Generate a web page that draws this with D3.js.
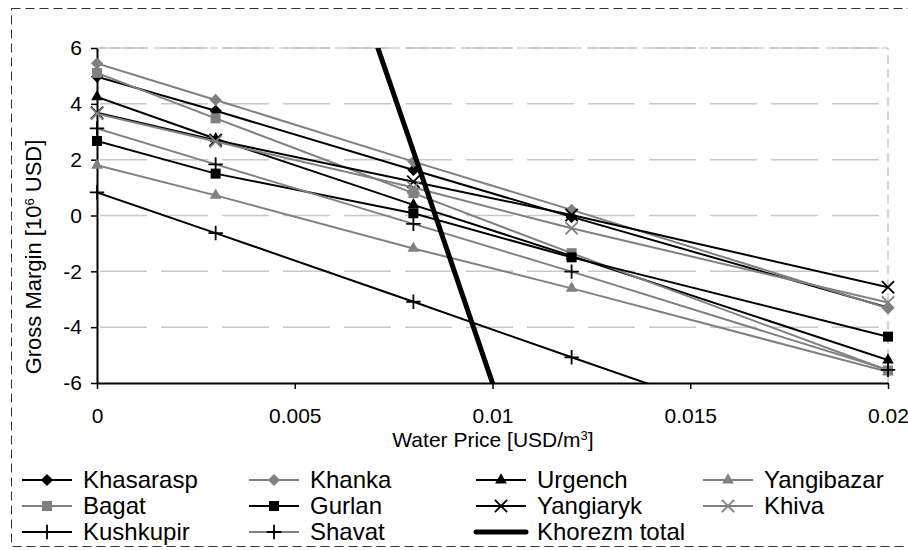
<!DOCTYPE html>
<html>
<head>
<meta charset="utf-8">
<script src="https://cdn.jsdelivr.net/npm/d3@7"></script>
<style>
  body { margin: 0; background: #fff; }
  svg { font-family: "Liberation Sans", Arial, sans-serif; }
</style>
</head>
<body>
<svg id="chart" width="908" height="550"></svg>
<script>
// water price steps (USD/m3)
var prices = [0, 0.003, 0.008, 0.012, 0.02]

// gross margin per district, 10^6 USD
var khasarasp  = [4.97, 3.75, 1.63, -0.05, -3.3]
var khanka     = [5.45, 4.14, 1.93, 0.2, -3.32]
var urgench    = [4.25, 2.75, 0.38, -1.45, -5.18]
var yangibazar = [1.8, 0.72, -1.18, -2.61, -5.6]
var bagat      = [5.11, 3.48, 0.8, -1.35, -5.55]
var gurlan     = [2.67, 1.5, 0.08, -1.5, -4.34]
var yangiaryk  = [3.68, 2.7, 1.21, 0.02, -2.57]
var khiva      = [3.65, 2.65, 1.0, -0.46, -3.12]
var kushkupir  = [0.83, -0.63, -3.09, -5.08, -9.0]
var shavat     = [3.12, 1.83, -0.3, -2.01, -5.53]
var khorezmTotal = [35.5, 22.9, 2.3, -14.3, -47.5]

var seriesNames = ["Khasarasp", "Khanka", "Urgench", "Yangibazar", "Bagat", "Gurlan",
                   "Yangiaryk", "Khiva", "Kushkupir", "Shavat", "Khorezm total"]
var seriesValues = [khasarasp, khanka, urgench, yangibazar, bagat, gurlan,
                    yangiaryk, khiva, kushkupir, shavat, khorezmTotal]

var yTicks = [-6, -4, -2, 0, 2, 4, 6]
var xTicks = [0, 0.005, 0.01, 0.015, 0.02]

// look of each series: line colour, marker colour, marker type
var black = "#000", grey = "#808080"
var styles = {
    "Khasarasp":     { line: black, mark: black, sym: "diamond" },
    "Khanka":        { line: grey,  mark: grey,  sym: "diamond" },
    "Urgench":       { line: black, mark: black, sym: "triangle" },
    "Yangibazar":    { line: grey,  mark: grey,  sym: "triangle" },
    "Bagat":         { line: grey,  mark: grey,  sym: "square" },
    "Gurlan":        { line: black, mark: black, sym: "square" },
    "Yangiaryk":     { line: black, mark: black, sym: "x" },
    "Khiva":         { line: grey,  mark: grey,  sym: "x" },
    "Kushkupir":     { line: black, mark: black, sym: "plus" },
    "Shavat":        { line: grey,  mark: black, sym: "plus" },
    "Khorezm total": { line: black, mark: null,  sym: null, width: 5 }
}

var dimensions = {
    width: 908,
    height: 550,
    margin: { top: 48, bottom: 167, left: 97, right: 20 }
}
var plotBottom = dimensions.height - dimensions.margin.bottom
var plotRight = dimensions.width - dimensions.margin.right

var svg = d3.select("#chart")

// outer dashed frame (right edge falls outside the picture)
svg.append("rect")
   .attr("x", 11.5).attr("y", 8.5)
   .attr("width", 905).attr("height", 538)
   .attr("fill", "#fff")
   .attr("stroke", "#333")
   .attr("stroke-dasharray", "9,5")

var xScale = d3.scaleLinear()
               .domain([0, 0.02])
               .range([dimensions.margin.left, plotRight])

var yScale = d3.scaleLinear()
               .domain([-6, 6])
               .range([plotBottom, dimensions.margin.top])

svg.append("clipPath").attr("id", "plotClip")
   .append("rect")
   .attr("x", dimensions.margin.left)
   .attr("y", dimensions.margin.top)
   .attr("width", plotRight - dimensions.margin.left)
   .attr("height", plotBottom - dimensions.margin.top)

// gridlines
svg.append("g")
   .selectAll("line")
   .data(yTicks.filter(d => d > -6))
   .enter()
   .append("line")
   .attr("x1", dimensions.margin.left + 3)
   .attr("x2", plotRight)
   .attr("y1", d => yScale(d))
   .attr("y2", d => yScale(d))
   .attr("stroke", "#c8c8c8")
   .attr("stroke-width", 1.5)
   .attr("stroke-dasharray", "47,14")

// plot area border (top/right)
svg.append("path")
   .attr("d", `M${dimensions.margin.left},${dimensions.margin.top}H${plotRight}V${plotBottom}`)
   .attr("fill", "none")
   .attr("stroke", "#bbb")
   .attr("stroke-width", 1.2)
   .attr("stroke-dasharray", "9,5")

var symbolType = {
    diamond:  d3.symbol().type(d3.symbolDiamond2).size(95),
    square:   d3.symbol().type(d3.symbolSquare).size(100),
    triangle: d3.symbol().type(d3.symbolTriangle).size(60),
    x:        d3.symbol().type(d3.symbolX).size(100),
    plus:     d3.symbol().type(d3.symbolPlus).size(70)
}

function drawMarker(g, st, x, y) {
    if (!st.sym) return
    var stroked = st.sym === "x" || st.sym === "plus"
    g.append("path")
     .attr("d", symbolType[st.sym]())
     .attr("transform", `translate(${x},${y})`)
     .attr("fill", stroked ? "none" : st.mark)
     .attr("stroke", stroked ? st.mark : "none")
     .attr("stroke-width", stroked ? 1.8 : 0)
}

var lineGen = d3.line()
                .x((d, i) => xScale(prices[i]))
                .y(d => yScale(d))

var plot = svg.append("g")

seriesNames.forEach((name, k) => {
    var st = styles[name]
    var values = seriesValues[k]
    var g = plot.append("g")
    g.append("path")
     .datum(values)
     .attr("d", lineGen)
     .attr("clip-path", "url(#plotClip)")
     .attr("fill", "none")
     .attr("stroke", st.line)
     .attr("stroke-width", st.width || 2)
     .attr("stroke-linejoin", "round")
    // markers are not clipped, but points off the value axis are skipped
    values.forEach((v, i) => {
        if (v >= -6 && v <= 6) drawMarker(g, st, xScale(prices[i]), yScale(v))
    })
})

// axes
var yAxisGen = d3.axisLeft(yScale)
                 .tickValues(yTicks)
                 .tickFormat(d => String(d))
                 .tickSize(6)
                 .tickSizeOuter(0)
                 .tickPadding(9)
var yAxis = svg.insert("g", "g")
               .attr("transform", `translate(${dimensions.margin.left},0)`)
               .call(yAxisGen)

var xAxisGen = d3.axisBottom(xScale)
                 .tickValues(xTicks)
                 .tickFormat(d => String(d))
                 .tickSize(6)
                 .tickSizeOuter(0)
                 .tickPadding(19)
var xAxis = svg.append("g")
               .attr("transform", `translate(0,${plotBottom})`)
               .call(xAxisGen)

;[xAxis, yAxis].forEach(ax => {
    ax.select(".domain").attr("stroke", "#000").attr("stroke-width", 2)
    ax.selectAll(".tick line").attr("stroke", "#000").attr("stroke-width", 1.5)
    ax.selectAll("text")
      .attr("fill", "#000")
      .style("font-size", "21px")
      .style("font-family", "'Liberation Sans', Arial, sans-serif")
})
// keep the y axis line above the gridlines but under the markers
yAxis.raise()
plot.raise()

// axis titles
var xTitle = svg.append("text")
                .attr("x", 493)
                .attr("y", 447)
                .attr("text-anchor", "middle")
                .style("font-size", "21px")
xTitle.append("tspan").text("Water Price [USD/m")
xTitle.append("tspan").attr("dy", -7).style("font-size", "13px").text("3")
xTitle.append("tspan").attr("dy", 7).text("]")

var yTitle = svg.append("text")
                .attr("transform", "translate(41,257) rotate(-90)")
                .attr("text-anchor", "middle")
                .style("font-size", "22px")
yTitle.append("tspan").text("Gross Margin [10")
yTitle.append("tspan").attr("dy", -7).style("font-size", "13px").text("6")
yTitle.append("tspan").attr("dy", 7).text(" USD]")

// legend
var legend = svg.append("g")
seriesNames.forEach((name, k) => {
    var st = styles[name]
    var col = k % 4, row = Math.floor(k / 4)
    var lx = 22 + col * 227, ly = 480 + row * 26
    var g = legend.append("g")
    g.append("line")
     .attr("x1", lx).attr("x2", lx + 50)
     .attr("y1", ly).attr("y2", ly)
     .attr("stroke", st.line)
     .attr("stroke-width", st.width || 2)
     .attr("stroke-linecap", st.width ? "round" : "butt")
    drawMarker(g, st, lx + 25, ly)
    g.append("text")
     .attr("x", lx + 61)
     .attr("y", ly + 8)
     .style("font-size", "24px")
     .text(name)
})
</script>
</body>
</html>
